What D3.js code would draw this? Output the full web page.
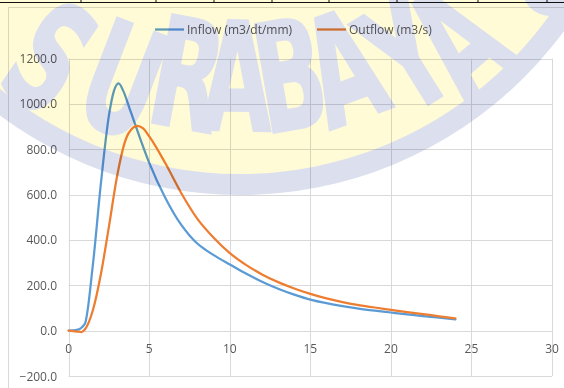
<!DOCTYPE html>
<html>
<head>
<meta charset="utf-8">
<script src="https://cdn.jsdelivr.net/npm/d3@7"></script>
<style>
  body { margin: 0; background: #fff; }
  svg { display: block; font-family: "Open Sans", sans-serif; }
</style>
</head>
<body>
<div class="chart"></div>
<script>
// Series values (time in hours)
const inflowT = [0, 0.5, 1, 1.5, 2, 2.5, 2.8, 3.1, 3.4, 3.8, 4, 5, 6, 7, 7.5, 8, 8.5, 9, 10, 11, 12, 13, 14, 15, 16, 17, 18, 19, 20, 21, 22, 23, 24];
const inflowQ = [0, 3, 30, 290, 650, 950, 1055, 1090, 1055, 975, 935, 740, 585, 465, 420, 383, 356, 333, 292, 252, 216, 185, 159, 137, 121, 108, 97, 88, 80, 72, 64, 57, 50];
const outflowT = [0, 0.5, 0.8, 1, 1.5, 2, 2.5, 3, 3.5, 4, 4.25, 4.6, 5, 6, 7, 8, 9, 10, 11, 12, 13, 14, 15, 16, 17, 18, 19, 20, 21, 22, 23, 24];
const outflowQ = [0, -4, -6, 5, 90, 250, 460, 680, 835, 895, 903, 893, 857, 738, 605, 492, 410, 342, 290, 248, 214, 186, 162, 142, 126, 113, 102, 92, 82, 73, 63, 54];
const seriesNames = ['Inflow (m3/dt/mm)', 'Outflow (m3/s)'];
const seriesColors = ['#5b9bd5', '#ed7d31'];
const xTicks = [0, 5, 10, 15, 20, 25, 30];
const yTicks = [-200, 0, 200, 400, 600, 800, 1000, 1200];

const W = 564, H = 388;

const svg = d3.select('.chart')
    .append('svg')
        .attr('width', W)
        .attr('height', H);

svg.append('rect').attr('width', W).attr('height', H).attr('fill', '#fff');

// document table border at the very top
svg.append('line')
    .attr('x1', 0).attr('x2', W).attr('y1', 2.5).attr('y2', 2.5)
    .attr('stroke', '#111').attr('stroke-width', 1.2);
svg.selectAll('.colTick')
    .data([81, 156, 214, 272, 329, 397, 478, 547])
    .enter()
        .append('line')
        .attr('x1', d => d).attr('x2', d => d)
        .attr('y1', 0).attr('y2', 2.5)
        .attr('stroke', '#111');

// chart area border
svg.append('rect')
    .attr('x', 8.5).attr('y', 7.5)
    .attr('width', 700).attr('height', 500)
    .attr('fill', 'none').attr('stroke', '#d9d9d9');

// scales
const x = d3.scaleLinear().domain([0, 30]).range([68.7, 552]);
const y = d3.scaleLinear().domain([-200, 1200]).range([376, 58.5]);
const crisp = v => Math.round(v) + 0.5;

// gridlines
svg.append('g')
    .selectAll('line')
    .data(yTicks)
    .enter()
        .append('line')
        .attr('x1', x(0)).attr('x2', x(30))
        .attr('y1', d => crisp(y(d))).attr('y2', d => crisp(y(d)))
        .attr('stroke', '#d9d9d9');
svg.append('g')
    .selectAll('line')
    .data(xTicks)
    .enter()
        .append('line')
        .attr('x1', d => crisp(x(d))).attr('x2', d => crisp(x(d)))
        .attr('y1', y(1200)).attr('y2', y(-200))
        .attr('stroke', '#d9d9d9');

// axis labels
svg.append('g')
    .selectAll('text')
    .data(yTicks)
    .enter()
        .append('text')
        .attr('x', 57)
        .attr('y', d => y(d) + 4.5)
        .attr('text-anchor', 'end')
        .style('font-size', '12px')
        .attr('fill', '#595959')
        .text(d => d3.format('.1f')(d));
svg.append('g')
    .selectAll('text')
    .data(xTicks)
    .enter()
        .append('text')
        .attr('x', d => x(d))
        .attr('y', y(0) + 22)
        .attr('text-anchor', 'middle')
        .style('font-size', '12px')
        .attr('fill', '#595959')
        .text(d => d);

// the two hydrographs
const series = [
    inflowT.map((t, i) => [t, inflowQ[i]]),
    outflowT.map((t, i) => [t, outflowQ[i]])
];
const line = d3.line()
    .x(d => x(d[0]))
    .y(d => y(d[1]))
    .curve(d3.curveMonotoneX);
svg.append('g')
    .selectAll('path')
    .data(series)
    .enter()
        .append('path')
        .attr('d', line)
        .attr('fill', 'none')
        .attr('stroke', (d, i) => seriesColors[i])
        .attr('stroke-width', 2.25)
        .attr('stroke-linejoin', 'round')
        .attr('stroke-linecap', 'round');

// legend
const legendX = [155, 317];
const leg = svg.append('g')
    .selectAll('g')
    .data(seriesNames)
    .enter()
        .append('g')
        .attr('transform', (d, i) => `translate(${legendX[i]}, 29.5)`);
leg.append('line')
    .attr('x1', 0).attr('x2', 29)
    .attr('stroke', (d, i) => seriesColors[i])
    .attr('stroke-width', 2.25);
leg.append('text')
    .attr('x', 32).attr('y', 4.5)
    .style('font-size', '12px')
    .attr('fill', '#595959')
    .text(d => d);

// watermark of the document, multiplied over the chart
const wm = svg.append('g').style('mix-blend-mode', 'multiply');
wm.append('circle').attr('cx', 240).attr('cy', -207).attr('r', 402).attr('fill', '#dcdfee');
wm.append('circle').attr('cx', 240).attr('cy', -207).attr('r', 381).attr('fill', '#fffbd6');
wm.append('circle').attr('cx', 550).attr('cy', -12).attr('r', 28).attr('fill', '#dcdfee');
const wmLetters = [
    ['S', 20, 102, 34], ['U', 104, 130, 21], ['R', 178, 127, 10.5], ['A', 236, 130, 1],
    ['B', 299, 128, -9.7], ['A', 362, 118, -20], ['Y', 435, 100, -32], ['A', 492, 80, -41]
];
wm.selectAll('text')
    .data(wmLetters)
    .enter()
        .append('text')
        .attr('transform', d => `translate(${d[1]}, ${d[2]}) rotate(${d[3]}) scale(0.6, 1)`)
        .attr('text-anchor', 'middle')
        .style('font-family', '"DejaVu Sans", sans-serif')
        .style('font-weight', 'bold')
        .style('font-size', '150px')
        .attr('fill', '#dcdfee')
        .attr('stroke', '#dcdfee')
        .attr('stroke-width', 3)
        .text(d => d[0]);
</script>
</body>
</html>
